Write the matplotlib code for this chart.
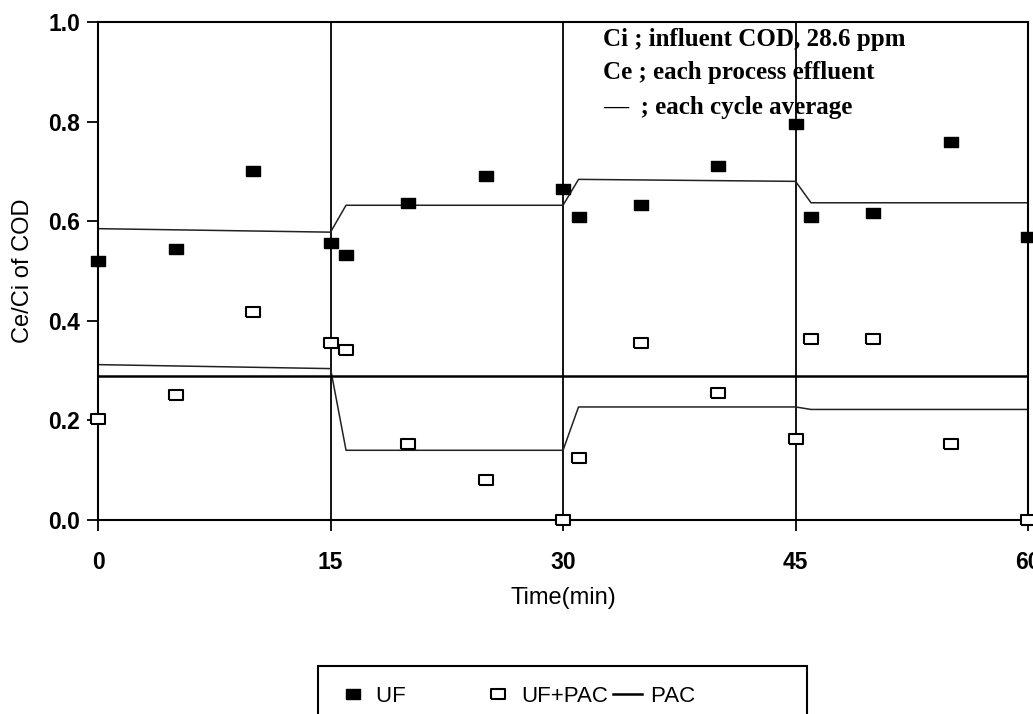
import numpy as np
import matplotlib.pyplot as plt
from matplotlib import rcParams

rcParams['font.family'] = 'sans-serif'
rcParams['font.sans-serif'] = ['Liberation Sans', 'DejaVu Sans']

# ---------------------------------------------------------------------------
# Data
# ---------------------------------------------------------------------------
uf_time = [0, 5, 10, 15, 16, 20, 25, 30, 31, 35, 40, 45, 46, 50, 55, 60]
uf_ratio = [0.52, 0.545, 0.70, 0.557, 0.532, 0.637, 0.69,
            0.665, 0.609, 0.632, 0.711, 0.795, 0.609, 0.617, 0.76, 0.569]

ufpac_time = [0, 5, 10, 15, 16, 20, 25, 30, 31, 35, 40, 45, 46, 50, 55, 60]
ufpac_ratio = [0.203, 0.252, 0.418, 0.355, 0.341, 0.153, 0.08,
               0.0, 0.125, 0.356, 0.256, 0.163, 0.364, 0.364, 0.152, 0.0]

# cycle averages (each cycle is 15 min, 1 min transition at the start)
avg_time = [0, 15, 16, 30, 31, 45, 46, 60]
uf_avg = [0.585, 0.578, 0.632, 0.632, 0.684, 0.680, 0.637, 0.637]
ufpac_avg = [0.312, 0.304, 0.140, 0.140, 0.227, 0.227, 0.222, 0.222]

pac_time = [0, 60]
pac_ratio = [0.29, 0.29]

cycle_edges = [15, 30, 45]
x_ticks = [0, 15, 30, 45, 60]
y_ticks = [0.0, 0.2, 0.4, 0.6, 0.8, 1.0]

NOTES = ["Ci ; influent COD, 28.6 ppm",
         "Ce ; each process effluent",
         "\u2014  ; each cycle average"]

# wide rectangle marker
RECT = [(-1, -0.75), (1, -0.75), (1, 0.75), (-1, 0.75), (-1, -0.75)]

# ---------------------------------------------------------------------------
# Figure
# ---------------------------------------------------------------------------
fig = plt.figure(figsize=(10.33, 7.14), dpi=100)
ax = fig.add_axes([0.0949, 0.2717, 0.9003, 0.6975])

for xe in cycle_edges:
    ax.axvline(xe, color='black', linewidth=1.3, zorder=2)

ax.plot(avg_time, uf_avg, color='#222222', linewidth=1.1, zorder=2)
ax.plot(avg_time, ufpac_avg, color='#222222', linewidth=1.1, zorder=2)
pac_line, = ax.plot(pac_time, pac_ratio, color='black', linewidth=1.8,
                    zorder=3, label='PAC')

uf_pts, = ax.plot(uf_time, uf_ratio, linestyle='none', marker=RECT,
                  markersize=10.5, color='black', clip_on=False, zorder=4,
                  label='UF')
ufpac_pts, = ax.plot(ufpac_time, ufpac_ratio, linestyle='none', marker=RECT,
                     markersize=10.5, markerfacecolor='white',
                     markeredgecolor='black', markeredgewidth=1.5,
                     clip_on=False, zorder=4, label='UF+PAC')

ax.set_xlim(0, 60)
ax.set_ylim(0, 1.0)
ax.set_xticks(x_ticks)
ax.set_yticks(y_ticks)
ax.set_yticklabels([f"{v:.1f}" for v in y_ticks])
ax.tick_params(axis='both', direction='out', length=8, width=1.3,
               labelsize=16.5)
ax.tick_params(axis='x', pad=14)
ax.tick_params(axis='y', pad=5)
for lab in ax.get_xticklabels() + ax.get_yticklabels():
    lab.set_fontweight('bold')
for sp in ax.spines.values():
    sp.set_linewidth(1.5)

ax.set_xlabel("Time(min)", fontsize=17, labelpad=10)
ax.set_ylabel("Ce/Ci of COD", fontsize=17, labelpad=10)

# notes in the upper right corner
for txt, yy in zip(NOTES, [0.964, 0.898, 0.829]):
    ax.text(0.543, yy, txt, transform=ax.transAxes, ha='left', va='center',
            fontsize=18, fontweight='bold', family='Liberation Serif',
            zorder=5)

# legend box under the plot
labels = ["UF".ljust(14), "UF+PAC", "PAC".ljust(18)]
leg = fig.legend([uf_pts, ufpac_pts, pac_line], labels, ncol=3,
                 loc='upper left', bbox_to_anchor=(0.308, 0.067),
                 borderaxespad=0, fontsize=16, handlelength=1.3,
                 handletextpad=0.4, columnspacing=0.2, borderpad=0.9,
                 fancybox=False, framealpha=1, edgecolor='black')
leg.get_frame().set_linewidth(1.5)

fig.savefig("out.png", dpi=100, facecolor='white')
